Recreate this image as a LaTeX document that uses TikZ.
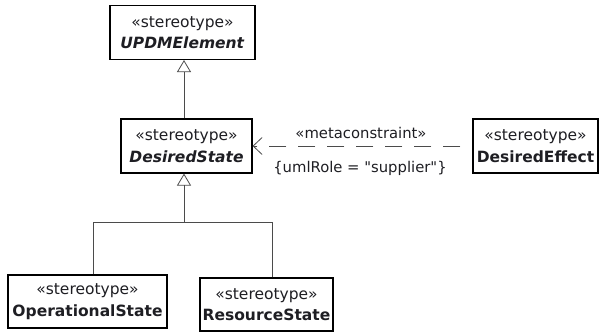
\documentclass[tikz,border=0pt]{standalone}
\usepackage{fontspec}
\setmainfont{DejaVu Sans}[Ligatures=TeXOff]
\usetikzlibrary{arrows.meta, positioning, calc}
\definecolor{linegray}{RGB}{75, 75, 75}
\definecolor{textdark}{RGB}{30, 30, 35}
\tikzset{
    stereobox/.style={
        rectangle, draw=black, line width=1.1pt, fill=white,
        minimum width=#1, minimum height=54pt, inner sep=0pt,
        text=textdark, align=center,
        font=\fontsize{15.5}{21.5}\selectfont
    },
    genarrow/.style={-{Triangle[open, length=12pt, width=14pt]}, line width=0.8pt, draw=linegray},
    genline/.style={line width=0.8pt, draw=linegray},
    deparrow/.style={-{Straight Barb[length=9pt, width=17pt]}, line width=0.8pt, draw=linegray,
        dash pattern=on 17pt off 12pt, dash phase=17pt},
    anno/.style={font=\fontsize{14.8}{17}\selectfont, text=textdark}
}
\begin{document}
\begin{tikzpicture}[x=1pt, y=-1pt]
    \useasboundingbox (0,0) rectangle (600,332);

    % Top: abstract stereotypes
    \node[stereobox=145pt] (upd) at (182.5,32.5) {«stereotype»\\\textbf{\textit{UPDMElement}}};
    \node[stereobox=131pt] (des) at (186.5,146) {«stereotype»\\\textbf{\textit{DesiredState}}};
    \node[stereobox=125pt] (eff) at (535.5,146) {«stereotype»\\\textbf{DesiredEffect}};

    % Bottom: concrete states
    \node[stereobox=159pt, minimum height=53pt] (ops) at (87.5,301.5) {«stereotype»\\\textbf{OperationalState}};
    \node[stereobox=133pt, minimum height=53pt] (res) at (266.5,304.5) {«stereotype»\\\textbf{ResourceState}};

    % Generalizations
    \coordinate (split) at (184,222);
    \draw[genarrow] (split |- des.north) -- (split |- upd.south);
    \draw[genarrow] ([xshift=5.5pt]ops.north) |- (split) -- (split |- des.south);
    \draw[genline] ([xshift=5.5pt]res.north) |- (split);

    % Metaconstraint
    \draw[deparrow] (eff.west) -- (des.east);
    \node[anno] (meta) at (361,133) {«metaconstraint»};
    \node[anno] (role) at (360,168) {\{umlRole = "supplier"\}};

\end{tikzpicture}
\end{document}
